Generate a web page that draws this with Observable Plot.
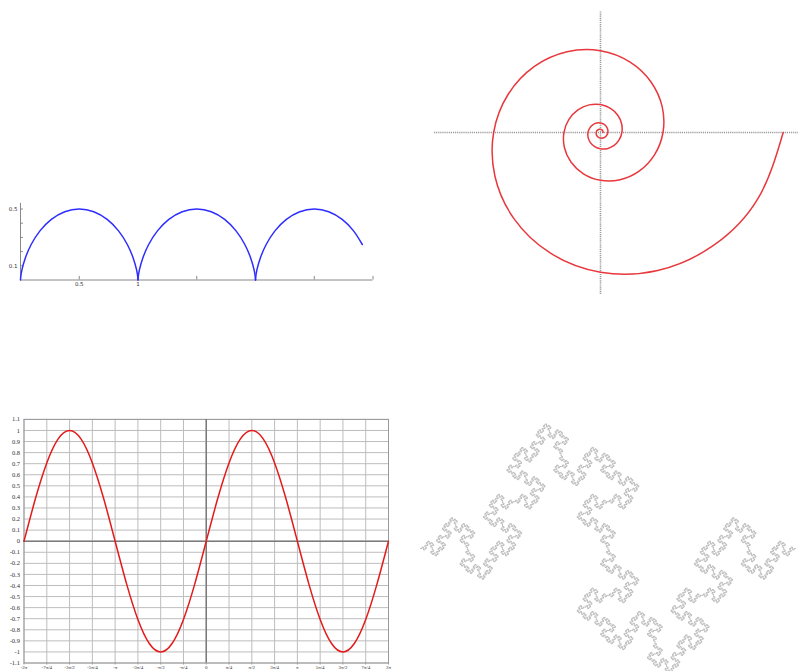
<!DOCTYPE html>
<html>
<head>
<meta charset="utf-8">
<script src="https://cdn.jsdelivr.net/npm/d3@7"></script>
<script src="https://cdn.jsdelivr.net/npm/@observablehq/plot@0.6"></script>
<style>
  html, body { margin: 0; padding: 0; background: #fff; }
  #page { position: relative; width: 798px; height: 671px; overflow: hidden; background: #fff; }
  .panel { position: absolute; }
  .panel svg { display: block; }
</style>
</head>
<body>
<div id="page">
  <div class="panel" id="cycloid" style="left:0px; top:190px;"></div>
  <div class="panel" id="spiral" style="left:420px; top:0px;"></div>
  <div class="panel" id="sine" style="left:0px; top:410px;"></div>
  <div class="panel" id="fractal" style="left:410px; top:410px;"></div>
</div>
<script>
// ---------- Panel 1: cycloid arches ----------
const cycloidX = [
  0, 0.0016, 0.0125, 0.0405, 0.0908, 0.1655, 0.2625, 0.3766, 0.5, 0.6234, 0.7375, 0.8345, 0.9092, 0.9595, 0.9875, 0.9984, 1,
  1, 1.0016, 1.0125, 1.0405, 1.0908, 1.1655, 1.2625, 1.3766, 1.5, 1.6234, 1.7375, 1.8345, 1.9092, 1.9595, 1.9875, 1.9984, 2,
  2, 2.0016, 2.0125, 2.0405, 2.0908, 2.1655, 2.2625, 2.3766, 2.5, 2.6234, 2.7375, 2.8345, 2.9092
];
const cycloidY = [
  0, 0.019, 0.073, 0.154, 0.25, 0.346, 0.427, 0.481, 0.5, 0.481, 0.427, 0.346, 0.25, 0.154, 0.073, 0.019, 0,
  0, 0.019, 0.073, 0.154, 0.25, 0.346, 0.427, 0.481, 0.5, 0.481, 0.427, 0.346, 0.25, 0.154, 0.073, 0.019, 0,
  0, 0.019, 0.073, 0.154, 0.25, 0.346, 0.427, 0.481, 0.5, 0.481, 0.427, 0.346, 0.25
];
const cycloidArch = [
  1,1,1,1,1,1,1,1,1,1,1,1,1,1,1,1,1,
  2,2,2,2,2,2,2,2,2,2,2,2,2,2,2,2,2,
  3,3,3,3,3,3,3,3,3,3,3,3,3
];
const cycloidXTicks = [0.5, 1, 1.5, 2, 2.5, 3];
const cycloidXLabels = [0.5, 1];
const cycloidYTicks = [0.1, 0.2, 0.3, 0.4, 0.5];
const cycloidYLabels = [0.1, 0.5];
const cycloidXExtent = [0, 3];
const cycloidYExtent = [0, 0.54];

// ---------- Panel 2: logarithmic spiral (points every 22.5 degrees) ----------
const spiralX = [
  182.7, 157.85, 112.97, 57.18, 0, -50.0, -86.39, -105.57, -106.85, -92.32, -66.07, -33.44, 0, 29.24, 50.53, 61.73,
  62.49, 53.99, 38.64, 19.56, 0, -17.1, -29.55, -36.11, -36.55, -31.58, -22.6, -11.44, 0, 10.0, 17.28, 21.12,
  21.37, 18.47, 13.22, 6.69, 0, -5.85, -10.1, -12.35, -12.5, -10.8, -7.73, -3.91, 0, 3.42, 5.91, 7.22,
  7.31, 6.32, 4.52, 2.29, 0, -2.0, -3.46, -4.22, -4.28, -3.7, -2.64, -1.34, 0, 1.17, 2.02, 2.48, 2.5
];
const spiralY = [
  0, -65.38, -112.97, -138.04, -139.72, -120.72, -86.39, -43.73, 0, 38.24, 66.07, 80.73, 81.71, 70.6, 50.53, 25.57,
  0, -22.36, -38.64, -47.21, -47.79, -41.29, -29.55, -14.96, 0, 13.08, 22.6, 27.62, 27.95, 24.15, 17.28, 8.75,
  0, -7.65, -13.22, -16.15, -16.35, -14.13, -10.1, -5.12, 0, 4.47, 7.73, 9.44, 9.56, 8.26, 5.91, 2.99,
  0, -2.62, -4.52, -5.52, -5.59, -4.83, -3.46, -1.75, 0, 1.53, 2.64, 3.23, 3.27, 2.83, 2.02, 1.03, 0
];
const spiralAxisX = [-166, 198];
const spiralAxisY = [-162, 121];

// ---------- Panel 3: sine over [-2π, 2π] (x in units of π) ----------
const sineX = [-2, -1.875, -1.75, -1.625, -1.5, -1.375, -1.25, -1.125, -1, -0.875, -0.75, -0.625, -0.5, -0.375, -0.25, -0.125,
  0, 0.125, 0.25, 0.375, 0.5, 0.625, 0.75, 0.875, 1, 1.125, 1.25, 1.375, 1.5, 1.625, 1.75, 1.875, 2];
const sineY = [0, 0.383, 0.707, 0.924, 1, 0.924, 0.707, 0.383, 0, -0.383, -0.707, -0.924, -1, -0.924, -0.707, -0.383,
  0, 0.383, 0.707, 0.924, 1, 0.924, 0.707, 0.383, 0, -0.383, -0.707, -0.924, -1, -0.924, -0.707, -0.383, 0];
const sineXTicks = [-2, -1.75, -1.5, -1.25, -1, -0.75, -0.5, -0.25, 0, 0.25, 0.5, 0.75, 1, 1.25, 1.5, 1.75, 2];
const sineXLabels = ["-2π", "-7π/4", "-3π/2", "-5π/4", "-π", "-3π/4", "-π/2", "-π/4", "0",
  "π/4", "π/2", "3π/4", "π", "5π/4", "3π/2", "7π/4", "2π"];
const sineYTicks = [-1.1, -1, -0.9, -0.8, -0.7, -0.6, -0.5, -0.4, -0.3, -0.2, -0.1, 0, 0.1, 0.2, 0.3, 0.4, 0.5, 0.6, 0.7, 0.8, 0.9, 1, 1.1];
const sineYLabels = ["-1.1", "-1", "-0.9", "-0.8", "-0.7", "-0.6", "-0.5", "-0.4", "-0.3", "-0.2", "-0.1", "0",
  "0.1", "0.2", "0.3", "0.4", "0.5", "0.6", "0.7", "0.8", "0.9", "1", "1.1"];

// ---------- Panel 4: quadratic Koch curve (Minkowski sausage) ----------
const fractalGenerator = [0, 1, 0, 3, 3, 0, 1, 0]; // segment directions in quarter turns
const fractalLevel = 4;

// ---------- build tables ----------
const cycloid = cycloidX.map((x, i) => ({x, y: cycloidY[i], arch: cycloidArch[i]}));
const spiral = spiralX.map((x, i) => ({x, y: spiralY[i]}));
const sine = sineX.map((x, i) => ({x, y: sineY[i]}));

let dirs = [0];
for (let l = 0; l < fractalLevel; l++) dirs = dirs.flatMap(d => fractalGenerator.map(g => (d + g) % 4));
const step = 1 / Math.pow(4, fractalLevel);
const unit = [[1, 0], [0, 1], [-1, 0], [0, -1]];
const fractal = [{x: 0, y: 0}];
dirs.forEach(d => {
  const p = fractal[fractal.length - 1];
  fractal.push({x: p.x + unit[d][0] * step, y: p.y + unit[d][1] * step});
});

const baseStyle = {background: "transparent", overflow: "visible"};

// Panel 1
document.getElementById("cycloid").append(Plot.plot({
  width: 385, height: 105,
  marginLeft: 20, marginRight: 12.5, marginTop: 11.4, marginBottom: 15.5,
  x: {domain: [0, 3]},
  y: {domain: [0, 0.55]},
  style: {...baseStyle, fontFamily: "'DejaVu Sans', sans-serif", fontSize: "5.5px", color: "#333"},
  marks: [
    Plot.ruleY([0], {x1: cycloidXExtent[0], x2: cycloidXExtent[1], stroke: "#888", strokeWidth: 1}),
    Plot.ruleX([0], {y1: cycloidYExtent[0], y2: cycloidYExtent[1], stroke: "#888", strokeWidth: 1}),
    Plot.ruleX(cycloidXTicks, {y1: 0, y2: 0.025, stroke: "#888"}),
    Plot.ruleY(cycloidYTicks, {x1: 0, x2: 0.025, stroke: "#888"}),
    Plot.axisX({ticks: cycloidXLabels, tickSize: 0, tickPadding: 2, label: null, tickFormat: d => String(d)}),
    Plot.axisY({ticks: cycloidYLabels, tickSize: 0, tickPadding: 3, label: null, tickFormat: d => String(d)}),
    Plot.line(cycloid, {x: "x", y: "y", z: "arch", curve: "natural", stroke: "#2d2dff", strokeWidth: 1.5})
  ]
}));

// Panel 2
document.getElementById("spiral").append(Plot.plot({
  width: 378, height: 300, margin: 0,
  x: {domain: [-180, 198], axis: null},
  y: {domain: [-168, 132], axis: null},
  style: baseStyle,
  marks: [
    Plot.ruleY([0], {x1: spiralAxisX[0], x2: spiralAxisX[1], stroke: "#9a9a9a", strokeWidth: 1.6, strokeDasharray: "1.2,0.9"}),
    Plot.ruleX([0], {y1: spiralAxisY[0], y2: spiralAxisY[1], stroke: "#9a9a9a", strokeWidth: 1.6, strokeDasharray: "1.2,0.9"}),
    Plot.line(spiral, {x: "x", y: "y", curve: "natural", stroke: "#e8383d", strokeWidth: 1.5})
  ]
}));

// Panel 3
document.getElementById("sine").append(Plot.plot({
  width: 398, height: 261,
  marginLeft: 23.5, marginRight: 10, marginTop: 8.9, marginBottom: 8.5,
  x: {domain: [-2, 2]},
  y: {domain: [-1.1, 1.1]},
  style: {...baseStyle, fontFamily: "'Liberation Serif', 'DejaVu Serif', serif", fontSize: "6.5px", color: "#333"},
  marks: [
    Plot.ruleX(sineXTicks, {stroke: "#bdbdbd", strokeWidth: 1}),
    Plot.ruleY(sineYTicks, {stroke: "#bdbdbd", strokeWidth: 1}),
    Plot.frame({stroke: "#999"}),
    Plot.ruleX([0], {stroke: "#7a7a7a", strokeWidth: 1.5}),
    Plot.ruleY([0], {stroke: "#7a7a7a", strokeWidth: 1.5}),
    Plot.axisX({ticks: sineXTicks, tickSize: 2, tickPadding: 0.5, label: null, fontSize: 5,
      stroke: "#999", tickFormat: d => sineXLabels[sineXTicks.indexOf(d)]}),
    Plot.axisY({ticks: sineYTicks, tickSize: 0, tickPadding: 4, label: null,
      tickFormat: d => sineYLabels[sineYTicks.indexOf(d)]}),
    Plot.line(sine, {x: "x", y: "y", curve: "natural", stroke: "#e41a1a", strokeWidth: 1.5})
  ]
}));

// Panel 4
document.getElementById("fractal").append(Plot.plot({
  width: 388, height: 261,
  marginLeft: 10, marginRight: 3, marginTop: 0, marginBottom: 0,
  x: {domain: [0, 1], axis: null},
  y: {domain: [-0.328, 0.368], axis: null},
  style: baseStyle,
  marks: [
    Plot.line(fractal, {x: "x", y: "y", stroke: "#a8a8a8", strokeWidth: 0.75})
  ]
}));
</script>
</body>
</html>
